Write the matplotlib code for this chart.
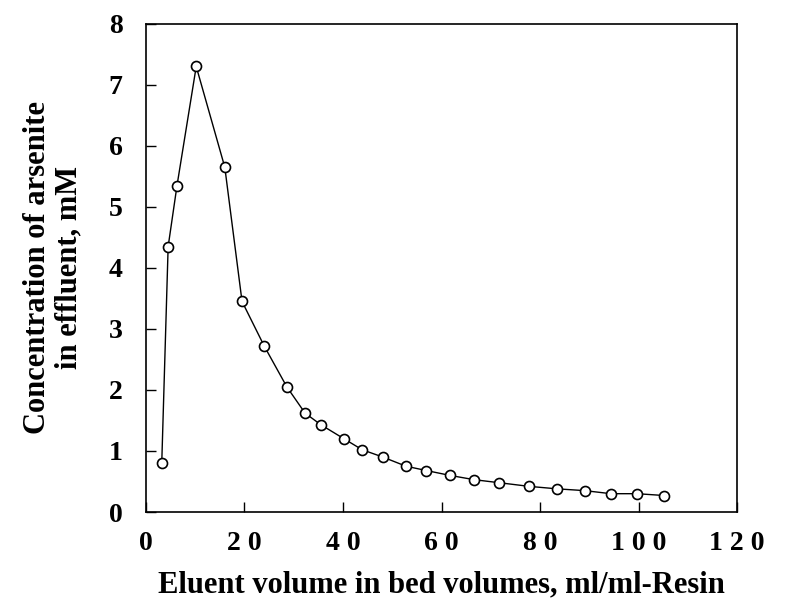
import matplotlib
matplotlib.use("Agg")
import matplotlib.pyplot as plt

volume = [3.2, 4.5, 6.3, 10.2, 16.0, 19.5, 24.0, 28.6, 32.3, 35.5, 40.2, 43.9,
          48.1, 52.8, 56.9, 61.7, 66.6, 71.7, 77.8, 83.4, 89.1, 94.4, 99.7, 105.2]
conc = [0.8, 4.35, 5.35, 7.3, 5.65, 3.45, 2.72, 2.05, 1.62, 1.43, 1.2, 1.02,
        0.9, 0.75, 0.68, 0.6, 0.53, 0.48, 0.42, 0.38, 0.35, 0.3, 0.3, 0.27]
xticks = [0, 20, 40, 60, 80, 100, 120]
xticklabels = ["0", "2 0", "4 0", "6 0", "8 0", "1 0 0", "1 2 0"]
yticks = [0, 1, 2, 3, 4, 5, 6, 7, 8]

plt.rcParams['font.family'] = ['Liberation Serif', 'DejaVu Serif']
plt.rcParams['font.weight'] = 'bold'

fig = plt.figure(figsize=(7.87, 6.02), dpi=100)
ax = fig.add_axes([0.1855, 0.1495, 0.751, 0.811])
ax.plot(volume, conc, color='black', lw=1.0, marker='o', ms=7.2,
        mfc='white', mec='black', mew=1.2)
ax.set_xlim(0, 120)
ax.set_ylim(0, 8)
ax.set_xticks(xticks)
ax.set_xticklabels(xticklabels)
ax.set_yticks(yticks)
ax.tick_params(direction='in', length=7, width=1.0, labelsize=20)
ax.tick_params(axis='y', pad=17)
ax.tick_params(axis='x', pad=14)
for lab in ax.get_xticklabels() + ax.get_yticklabels():
    lab.set_fontweight('bold')
for s in ax.spines.values():
    s.set_linewidth(1.2)
ax.set_xlabel("Eluent volume in bed volumes, ml/ml-Resin", fontsize=22,
              fontweight='bold', labelpad=10)
ax.set_ylabel("Concentration of arsenite\nin effluent, mM", fontsize=22,
              fontweight='bold', labelpad=18, linespacing=1.1)
fig.savefig("out.png", dpi=100)
